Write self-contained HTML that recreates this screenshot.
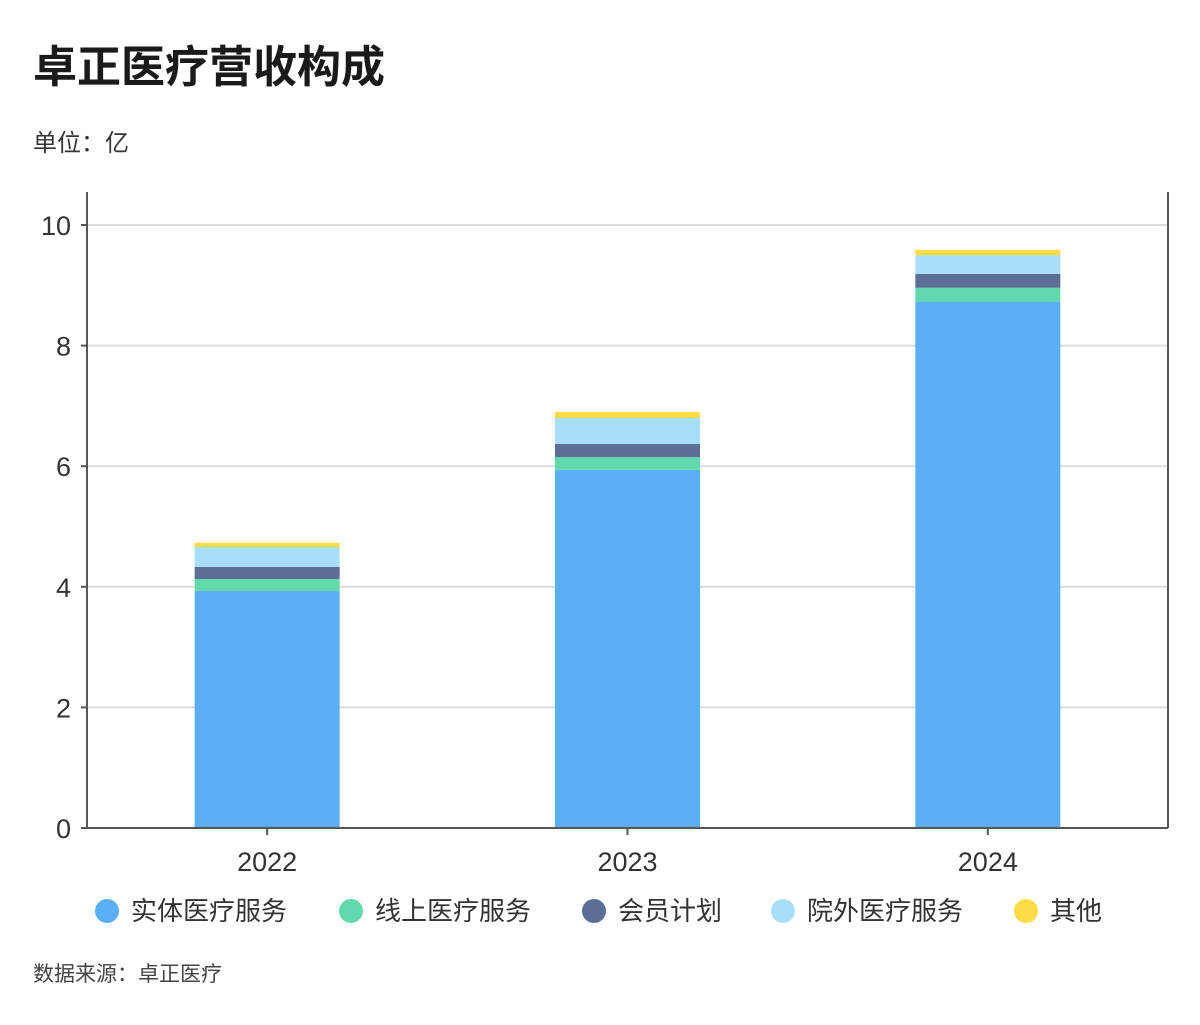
<!DOCTYPE html>
<html><head><meta charset="utf-8"><style>
body{margin:0;background:#fff;font-family:"Liberation Sans","Noto Sans CJK SC",sans-serif;}
svg text{font-family:"Liberation Sans","Noto Sans CJK SC",sans-serif;}
</style></head><body>
<svg id="chart" width="1200" height="1020" xmlns="http://www.w3.org/2000/svg">
<text x="33" y="82" font-size="44" font-weight="bold" fill="#1a1a1a">卓正医疗营收构成</text>
<text x="33" y="151" font-size="24" fill="#333">单位：亿</text>
<text x="33" y="981" font-size="21" fill="#444">数据来源：卓正医疗</text>
<g id="grid"></g><g id="bars"></g><g id="axes"></g><g id="legend"></g>
</svg>
<script>
const categories=["2022","2023","2024"];
const seriesNames=["实体医疗服务","线上医疗服务","会员计划","院外医疗服务","其他"];
const physical=[3.93,5.94,8.73];
const online=[0.20,0.21,0.23];
const member=[0.20,0.22,0.23];
const offsite=[0.33,0.43,0.31];
const other=[0.07,0.10,0.09];
const yTicks=[0,2,4,6,8,10];
const colors=["#5aaef5","#62d9ac","#5b6e96","#a9def9","#fedb48"];
const series=[physical,online,member,offsite,other];
const NS="http://www.w3.org/2000/svg";
const L=87,R=1168,T=192,B=828;
const y=v=>B-v*60.3;
const band=(R-L)/categories.length;
const x=i=>L+band*(i+0.5);
const bw=145;
function mk(tag,attrs,parent,txt){const e=document.createElementNS(NS,tag);for(const k in attrs)e.setAttribute(k,attrs[k]);if(txt!==undefined)e.textContent=txt;document.getElementById(parent).appendChild(e);return e;}
yTicks.forEach(t=>{
 const g=mk("line",{x1:L,x2:R,y1:y(t),y2:y(t),stroke:"#dcdcdc","stroke-width":2},"grid");
 
 
 const tk=mk("line",{x1:L-6,x2:L,y1:y(t),y2:y(t),stroke:"#555","stroke-width":2},"axes");
 
 
 const lb=mk("text",{x:L-16,y:y(t)+10,"text-anchor":"end","font-size":27,fill:"#333"},"axes",String(t));
 
 
});
categories.forEach((c,i)=>{
 let acc=0;
 series.forEach((s,j)=>{
  const r=mk("rect",{x:x(i)-bw/2,y:y(acc+s[i]),width:bw,height:y(acc)-y(acc+s[i]),fill:colors[j]},"bars");
  
  
  acc+=s[i];
 });
 const tk=mk("line",{x1:x(i),x2:x(i),y1:B,y2:B+7,stroke:"#555","stroke-width":2},"axes");
 
 
 const lb=mk("text",{x:x(i),y:B+43,"text-anchor":"middle","font-size":27,fill:"#333"},"axes",c);
 
 
});
[[L,T,L,B],[R,T,R,B],[L,B,R,B]].forEach(a=>{
 const l=mk("line",{x1:a[0],y1:a[1],x2:a[2],y2:a[3],stroke:"#555","stroke-width":2},"axes");
 
 
});
const lx=[107,351,594,783,1026];
seriesNames.forEach((n,j)=>{
 const c=mk("circle",{cx:lx[j],cy:911,r:12,fill:colors[j]},"legend");
 
 
 const t=mk("text",{x:lx[j]+24,y:920,"font-size":26,fill:"#333"},"legend",n);
 
 
});
</script>
</body></html>
